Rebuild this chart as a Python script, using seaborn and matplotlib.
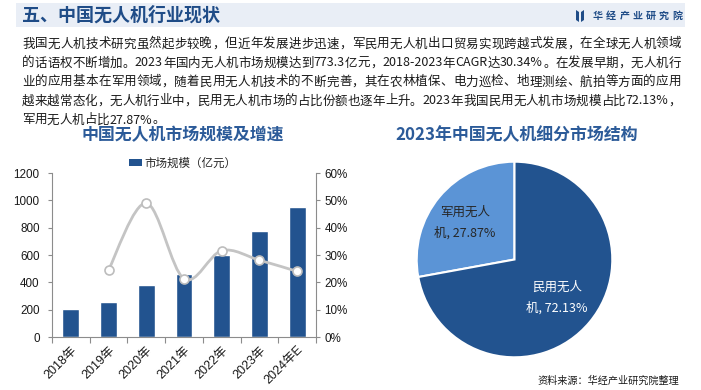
import re
import numpy as np
import pandas as pd
import matplotlib
matplotlib.use("Agg")
import matplotlib.pyplot as plt
from matplotlib.path import Path
from matplotlib.patches import PathPatch, Rectangle, Polygon
import seaborn as sns

# ---------------- data ----------------
years = ["2018年", "2019年", "2020年", "2021年", "2022年", "2023年", "2024年E"]
market_size = [206, 257, 383, 463, 603, 773.3, 954]          # 亿元
growth_years = ["2019年", "2020年", "2021年", "2022年", "2023年", "2024年E"]
growth_rate = [24.6, 49.0, 21.3, 31.6, 28.1, 24.0]            # %
pie_labels = ["军用无人\n机, 27.87%", "民用无人\n机, 72.13%"]
pie_values = [27.87, 72.13]
left_ticks = [0, 200, 400, 600, 800, 1000, 1200]
right_ticks = [0, 10, 20, 30, 40, 50, 60]

para_lines = [
    "我国无人机技术研究虽然起步较晚，但近年发展进步迅速，军民用无人机出口贸易实现跨越式发展，在全球无人机领域",
    "的话语权不断增加。2023年国内无人机市场规模达到773.3亿元，2018-2023年CAGR达30.34%。在发展早期，无人机行",
    "业的应用基本在军用领域，随着民用无人机技术的不断完善，其在农林植保、电力巡检、地理测绘、航拍等方面的应用",
    "越来越常态化，无人机行业中，民用无人机市场的占比份额也逐年上升。2023年我国民用无人机市场规模占比72.13%，",
    "军用无人机占比27.87%。",
]

# ---------------- style ----------------
sns.set_theme(style="white")
CJK = ["Noto Sans CJK SC", "DejaVu Sans"]
LAT = ["Liberation Sans", "Noto Sans CJK SC", "DejaVu Sans"]
plt.rcParams["font.family"] = CJK
plt.rcParams["axes.unicode_minus"] = False

W, H = 701, 390
fig = plt.figure(figsize=(W / 100, H / 100), dpi=100)
fig.patch.set_facecolor("white")

def fx(px):
    return px / W

def fy(py):
    return 1 - py / H

DARK = "#22538f"
LIGHT = "#5b94d6"
TITLE_C = "#2c5b99"
SPINE = "#8c8c8c"

# ---------------- banner ----------------
fig.patches.append(Rectangle((fx(16), fy(27)), fx(685) - fx(16), fy(3) - fy(27),
                             transform=fig.transFigure, facecolor="#e9eef6",
                             edgecolor="none", zorder=0))
fig.text(fx(22), fy(15.5), "五、中国无人机行业现状", fontsize=13, fontweight="bold",
         color="#1f4c87", va="center", ha="left", family=CJK)
# logo
fig.patches.append(Polygon([(fx(576), fy(10)), (fx(579), fy(12)), (fx(579), fy(22)), (fx(576), fy(20))],
                           closed=True, transform=fig.transFigure, facecolor="#1f4c87", edgecolor="none"))
fig.patches.append(Polygon([(fx(581), fy(12)), (fx(584), fy(10)), (fx(584), fy(20)), (fx(581), fy(22))],
                           closed=True, transform=fig.transFigure, facecolor="#1f4c87", edgecolor="none"))
logo = "华经产业研究院"
for i, ch in enumerate(logo):
    fig.text(fx(593 + i * 13.2), fy(15.5), ch, fontsize=7.2, fontweight="bold",
             color="#1f4c87", va="center", ha="left", family=CJK)

# ---------------- paragraph (justified) ----------------
renderer = fig.canvas.get_renderer()
PFS = 9.0
em = PFS / 72 * 100
line_y = [44, 63, 82, 101, 120]
x_left, x_right = 22, 681
for li, (line, yy) in enumerate(zip(para_lines, line_y)):
    tokens = re.findall(r"[A-Za-z0-9.\-%]+|.", line)
    widths = []
    for t in tokens:
        if re.match(r"[A-Za-z0-9.\-%]", t):
            tt = fig.text(0, 0, t, fontsize=PFS, family=CJK)
            widths.append(tt.get_window_extent(renderer).width)
            tt.remove()
        else:
            widths.append(em)
    total = sum(widths)
    if li < len(para_lines) - 1:
        gap = (x_right - x_left - total) / (len(tokens) - 1)
    else:
        gap = 0.0
    xx = x_left
    for t, w in zip(tokens, widths):
        fig.text(fx(xx), fy(yy), t, fontsize=PFS, color="#1a1a1a",
                 va="center", ha="left", family=CJK)
        xx += w + gap

# ---------------- bar + line chart ----------------
ax = fig.add_axes([fx(52), fy(337), fx(316) - fx(52), fy(173) - fy(337)])
df = pd.DataFrame({"year": years, "size": market_size})
sns.barplot(data=df, x="year", y="size", color=DARK, saturation=1, width=0.45, ax=ax)
ax.set_xlim(-0.5, len(years) - 0.5)
ax.set_ylim(0, 1200)
ax.set_yticks(left_ticks)
ax.set_yticklabels([str(v) for v in left_ticks], fontsize=8.4, family=LAT, color="#1a1a1a")
ax.set_xlabel("")
ax.set_ylabel("")
ax.set_xticks(range(len(years)))
ax.set_xticklabels(years, rotation=45, ha="right", rotation_mode="anchor",
                   fontsize=9, family=LAT, color="#1a1a1a")
ax.tick_params(axis="x", length=0, pad=5)
ax.set_xticks(np.arange(-0.5, len(years), 1.0), minor=True)
ax.tick_params(axis="x", which="minor", length=4, color=SPINE, width=0.8, direction="out")
ax.tick_params(axis="y", length=3, color=SPINE, width=0.8, direction="out", pad=6)
ax.tick_params(axis="x", bottom=True, which="minor")
for s in ["top", "right"]:
    ax.spines[s].set_visible(False)
for s in ["left", "bottom"]:
    ax.spines[s].set_color(SPINE)
    ax.spines[s].set_linewidth(0.8)
ax.grid(False)
ax.set_facecolor("none")

ax2 = ax.twinx()
ax2.set_ylim(0, 60)
ax2.set_yticks(right_ticks)
ax2.set_yticklabels([f"{v}%" for v in right_ticks], fontsize=8.4, family=LAT, color="#1a1a1a")
ax2.tick_params(axis="y", length=3, color=SPINE, width=0.8, direction="out", pad=3)
for s in ["top", "left", "bottom"]:
    ax2.spines[s].set_visible(False)
ax2.spines["right"].set_color(SPINE)
ax2.spines["right"].set_linewidth(0.8)
ax2.grid(False)

gx = np.array([years.index(g) for g in growth_years], dtype=float)
gy = np.array(growth_rate, dtype=float)
P = np.column_stack([gx, gy])
Pe = np.vstack([P[0], P, P[-1]])
verts = [tuple(P[0])]
codes = [Path.MOVETO]
for i in range(len(P) - 1):
    p0, p1, p2, p3 = Pe[i], Pe[i + 1], Pe[i + 2], Pe[i + 3]
    c1 = p1 + (p2 - p0) / 6
    c2 = p2 - (p3 - p1) / 6
    verts += [tuple(c1), tuple(c2), tuple(p2)]
    codes += [Path.CURVE4] * 3
ax2.add_patch(PathPatch(Path(verts, codes), facecolor="none", edgecolor="#c4c4c4",
                        linewidth=2.0, zorder=3))
sns.scatterplot(x=gx, y=gy, ax=ax2, s=42, color="white", edgecolor="#bdbdbd",
                linewidth=1.2, zorder=4, legend=False)

# legend
handle = Rectangle((0, 0), 1, 1, facecolor=DARK, edgecolor="none")
fig.legend([handle], ["市场规模（亿元）"], loc="center", bbox_to_anchor=(fx(183), fy(163)),
           frameon=False, fontsize=8.3, handlelength=1.1, handleheight=0.55,
           handletextpad=0.25, prop={"family": CJK, "size": 8.3})

fig.text(fx(183), fy(135), "中国无人机市场规模及增速", fontsize=12.2, fontweight="bold",
         color=TITLE_C, ha="center", va="center", family=CJK)

# ---------------- pie ----------------
cx, cy, r = 514.5, 259.5, 97.8
pax = fig.add_axes([fx(cx - r), fy(cy + r), fx(2 * r), fy(cy - r) - fy(cy + r)])
wedges, _ = pax.pie(pie_values, colors=[LIGHT, DARK], startangle=90, counterclock=True,
                    wedgeprops=dict(edgecolor="white", linewidth=1.5), radius=1)
pax.set_xlim(-1, 1)
pax.set_ylim(-1, 1)
pax.set_aspect("auto")
pax.axis("off")

fig.text(fx(465), fy(223), pie_labels[0], fontsize=9, color="#262626", ha="center",
         va="center", linespacing=1.75, family=CJK)
fig.text(fx(557), fy(298), pie_labels[1], fontsize=9, color="white", ha="center",
         va="center", linespacing=1.75, family=CJK)

fig.text(fx(516.7), fy(135), "2023年中国无人机细分市场结构", fontsize=12.2, fontweight="bold",
         color=TITLE_C, ha="center", va="center", family=CJK)

fig.text(fx(679), fy(381), "资料来源：华经产业研究院整理", fontsize=7.3, color="#1a1a1a",
         ha="right", va="center", family=CJK)

fig.savefig("out.png", dpi=100, facecolor="white")
